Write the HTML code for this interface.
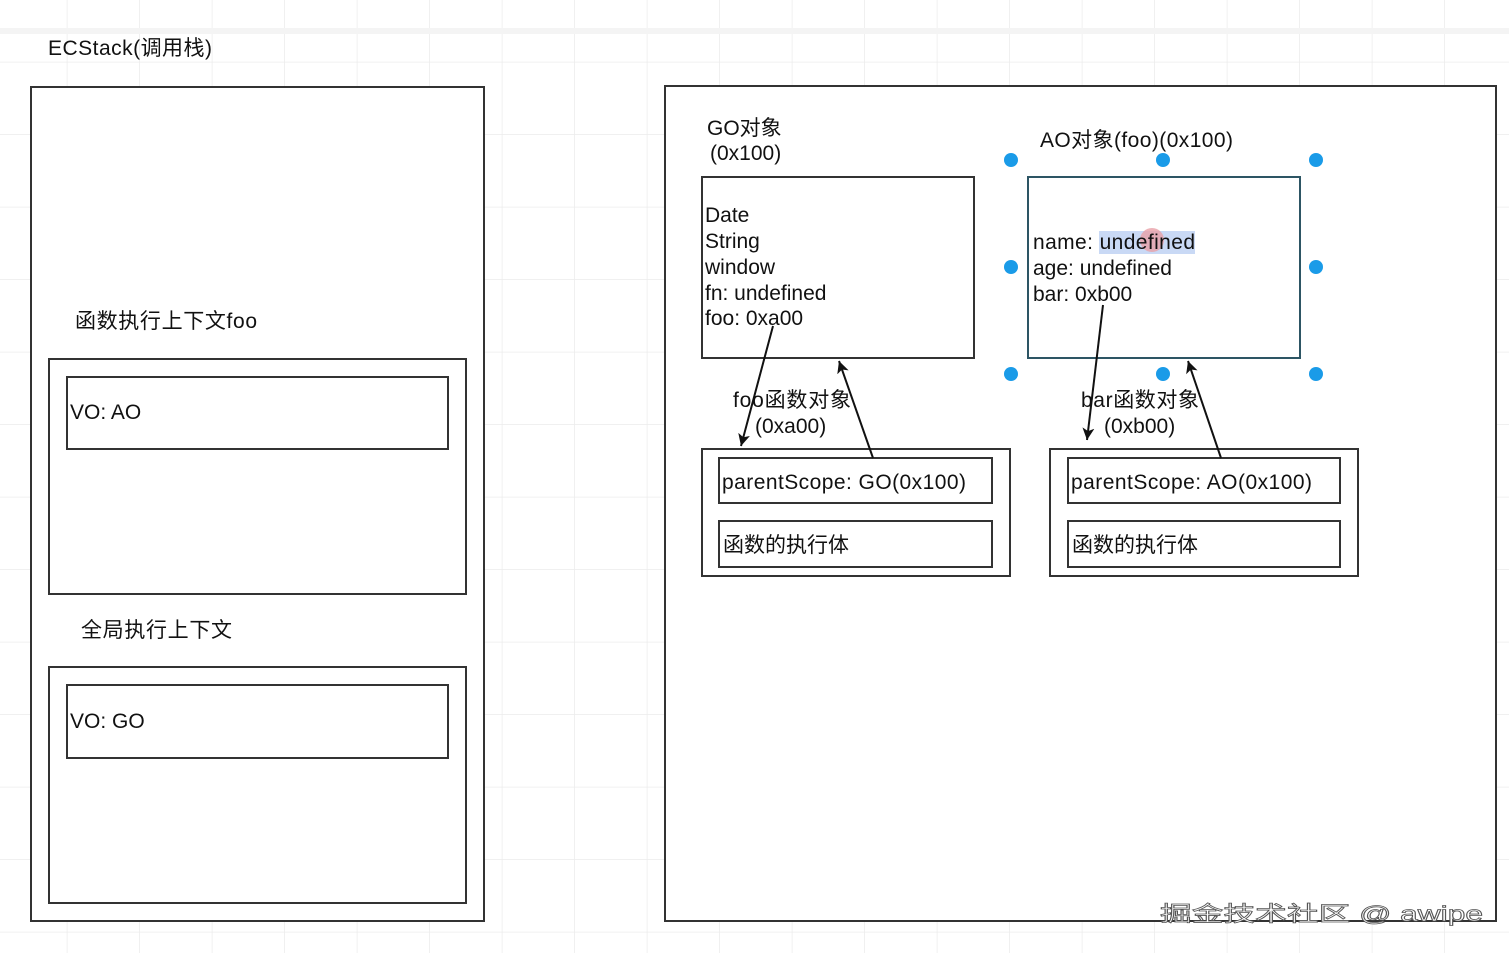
<!DOCTYPE html>
<html><head><meta charset="utf-8"><style>
html,body{margin:0;padding:0;background:#fff;}
svg{display:block;}
text{font-family:"Liberation Sans","Noto Sans CJK SC",sans-serif;font-size:21px;fill:#111;}
</style></head><body>
<svg width="1509" height="953" viewBox="0 0 1509 953" xmlns="http://www.w3.org/2000/svg">
<defs>
<pattern id="g" x="-5" y="-10" width="72.5" height="72.5" patternUnits="userSpaceOnUse">
<path d="M72.5 0V72.5M0 72.5H72.5" stroke="#ececec" stroke-width="1.5" fill="none"/>
</pattern>
<marker id="a" markerWidth="14" markerHeight="14" refX="12" refY="6" orient="auto" markerUnits="userSpaceOnUse">
<path d="M0 0L12 6L0 12L3 6z" fill="#111"/>
</marker>
</defs>
<rect width="1509" height="953" fill="url(#g)"/>
<rect x="0" y="28" width="1509" height="6" fill="#f4f4f4"/>
<text x="48" y="55" textLength="164">ECStack(调用栈)</text>
<g fill="#fff" stroke="#333" stroke-width="2">
<rect x="31" y="87" width="453" height="834"/>
<rect x="49" y="359" width="417" height="235"/>
<rect x="67" y="377" width="381" height="72"/>
<rect x="49" y="667" width="417" height="236"/>
<rect x="67" y="685" width="381" height="73"/>
<rect x="665" y="86" width="831" height="835"/>
<rect x="702" y="177" width="272" height="181"/>
<rect x="1028" y="177" width="272" height="181" stroke="#2d5564"/>
<rect x="702" y="449" width="308" height="127"/>
<rect x="719" y="458" width="273" height="45"/>
<rect x="719" y="521" width="273" height="46"/>
<rect x="1050" y="449" width="308" height="127"/>
<rect x="1068" y="458" width="272" height="45"/>
<rect x="1068" y="521" width="272" height="46"/>
</g>
<text x="75" y="328" textLength="182">函数执行上下文foo</text>
<text x="70" y="419">VO: AO</text>
<text x="81" y="637" textLength="151">全局执行上下文</text>
<text x="70" y="728">VO: GO</text>
<text x="707" y="135">GO对象</text>
<text x="710" y="160">(0x100)</text>
<text x="1040" y="147" textLength="193">AO对象(foo)(0x100)</text>
<text x="705" y="222">Date</text>
<text x="705" y="248">String</text>
<text x="705" y="274">window</text>
<text x="705" y="300">fn: undefined</text>
<text x="705" y="325">foo: 0xa00</text>
<rect x="1099" y="231" width="96" height="23" fill="#c9d9f5"/>
<circle cx="1152" cy="240" r="12" fill="#e8a0a8" opacity="0.8"/>
<text x="1033" y="249" textLength="162">name: undefined</text>
<text x="1033" y="275">age: undefined</text>
<text x="1033" y="301">bar: 0xb00</text>
<g fill="#1a9be8">
<circle cx="1011" cy="160" r="7"/><circle cx="1163" cy="160" r="7"/><circle cx="1316" cy="160" r="7"/>
<circle cx="1011" cy="267" r="7"/><circle cx="1316" cy="267" r="7"/>
<circle cx="1011" cy="374" r="7"/><circle cx="1163" cy="374" r="7"/><circle cx="1316" cy="374" r="7"/>
</g>
<g stroke="#111" stroke-width="2" fill="none">
<line x1="773" y1="326" x2="741" y2="446" marker-end="url(#a)"/>
<line x1="873" y1="458" x2="839" y2="361" marker-end="url(#a)"/>
<line x1="1103" y1="305" x2="1087" y2="440" marker-end="url(#a)"/>
<line x1="1221" y1="458" x2="1188" y2="361" marker-end="url(#a)"/>
</g>
<text x="733" y="407" textLength="118">foo函数对象</text>
<text x="755" y="433">(0xa00)</text>
<text x="1081" y="407" textLength="118">bar函数对象</text>
<text x="1104" y="433">(0xb00)</text>
<text x="722" y="489" textLength="244">parentScope: GO(0x100)</text>
<text x="723" y="552">函数的执行体</text>
<text x="1071" y="489" textLength="241">parentScope: AO(0x100)</text>
<text x="1072" y="552">函数的执行体</text>
<text x="1160" y="921" textLength="323" lengthAdjust="spacingAndGlyphs" style="fill:#fff;stroke:#555;stroke-width:0.8px">掘金技术社区 @ awipe</text>
</svg>
</body></html>
